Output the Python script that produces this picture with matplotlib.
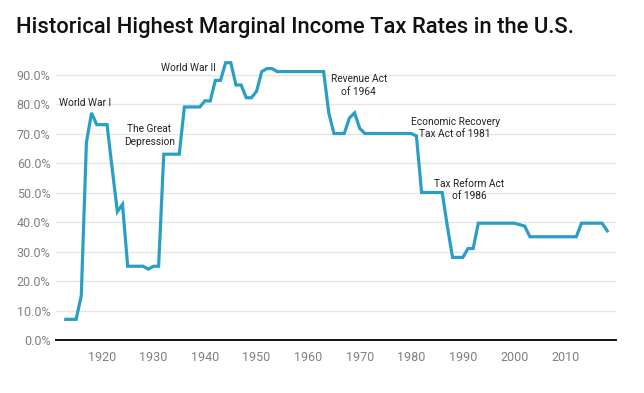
import matplotlib
matplotlib.use("Agg")
import matplotlib.pyplot as plt
from matplotlib.ticker import FuncFormatter

years = list(range(1913, 2019))
rates = [7, 7, 7, 15, 67, 77, 73,                                    # 1913-1919
         73, 73, 58, 43.5, 46, 25, 25, 25, 25, 24,                   # 1920s
         25, 25, 63, 63, 63, 63, 79, 79, 79, 79,                     # 1930s
         81.1, 81, 88, 88, 94, 94, 86.45, 86.45, 82.13, 82.13,       # 1940s
         84.36, 91, 92, 92, 91, 91, 91, 91, 91, 91,                  # 1950s
         91, 91, 91, 91, 77, 70, 70, 70, 75.25, 77,                  # 1960s
         71.75, 70, 70, 70, 70, 70, 70, 70, 70, 70,                  # 1970s
         70, 69.13, 50, 50, 50, 50, 50, 38.5, 28, 28,                # 1980s
         28, 31, 31, 39.6, 39.6, 39.6, 39.6, 39.6, 39.6, 39.6,       # 1990s
         39.6, 39.1, 38.6, 35, 35, 35, 35, 35, 35, 35,               # 2000s
         35, 35, 35, 39.6, 39.6, 39.6, 39.6, 39.6, 37]               # 2010-2018

annotations = [
    ("World War I", 1916.7, 80.3),
    ("The Great\nDepression", 1929.2, 69.3),
    ("World War II", 1936.7, 92.2),
    ("Revenue Act\nof 1964", 1969.8, 86.3),
    ("Economic Recovery\nTax Act of 1981", 1988.5, 71.9),
    ("Tax Reform Act\nof 1986", 1991.2, 50.8),
]

title = "Historical Highest Marginal Income Tax Rates in the U.S."

plt.rcParams['font.family'] = ['Roboto', 'DejaVu Sans']

fig = plt.figure(figsize=(6.44, 3.93), dpi=100)
ax = fig.add_axes([56 / 644, 1 - 340 / 393, 560 / 644, 282 / 393])

ax.plot(years, rates, color="#2a9fc5", lw=2.3, solid_joinstyle="miter", zorder=3)

ax.set_xlim(1911.1, 2019.7)
ax.set_ylim(0, 95.6)
ax.set_yticks([i * 10 for i in range(10)])
ax.set_xticks([1920, 1930, 1940, 1950, 1960, 1970, 1980, 1990, 2000, 2010])
ax.yaxis.set_major_formatter(FuncFormatter(lambda v, p: f"{v:.1f}%"))

ax.grid(axis="y", color="#e6e6e6", lw=1)
ax.set_axisbelow(True)
for s in ["top", "right", "left"]:
    ax.spines[s].set_visible(False)
ax.spines["bottom"].set_color("#111111")
ax.spines["bottom"].set_linewidth(1.4)
ax.tick_params(axis="both", length=0, labelsize=9, labelcolor="#808080")
ax.tick_params(axis="x", pad=8)
ax.tick_params(axis="y", pad=4)

for txt, x, y in annotations:
    ax.text(x, y, txt, ha="center", va="center", fontsize=7.3, color="#222222",
            linespacing=1.3, zorder=4)

fig.text(16 / 644, 1 - 28 / 393, title, fontsize=15.8, color="#111111",
         ha="left", va="center", fontweight="medium")

fig.savefig("out.png", dpi=100, facecolor="white")
